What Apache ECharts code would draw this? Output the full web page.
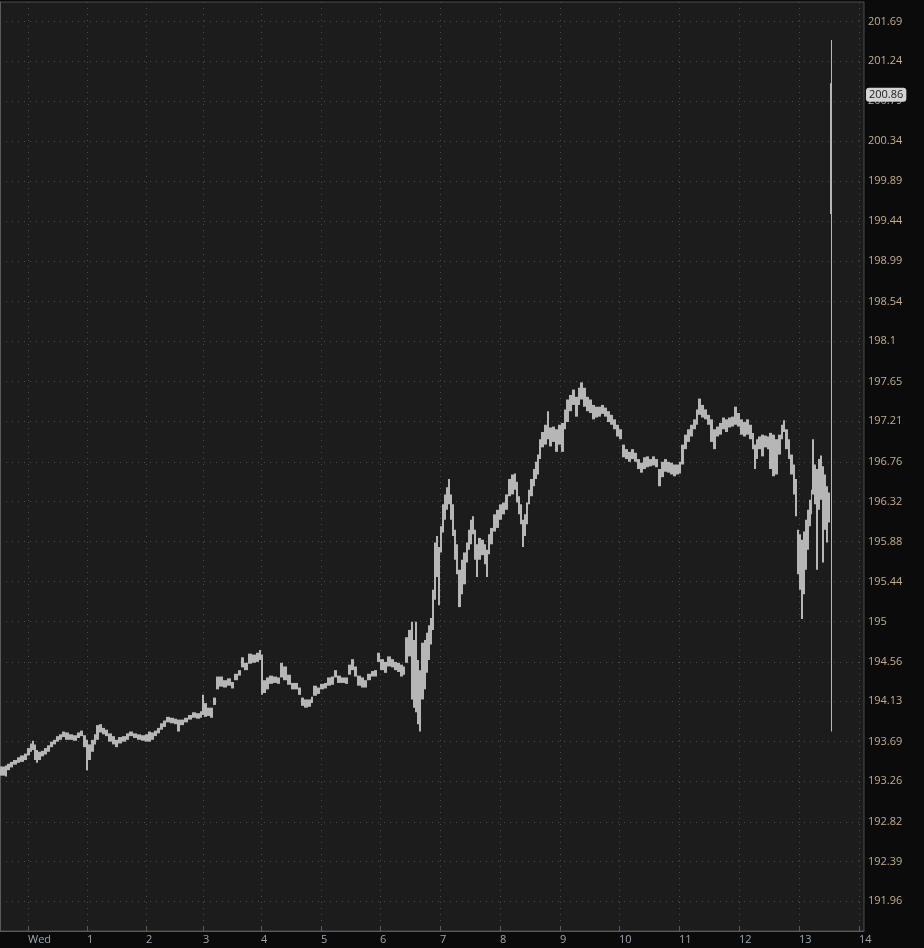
<!DOCTYPE html>
<html><head><meta charset="utf-8">
<script src="https://cdn.jsdelivr.net/npm/echarts@6/dist/echarts.min.js"></script>
<style>html,body{margin:0;padding:0;background:#0b0b0b}#c{width:924px;height:948px}</style>
</head><body><div id="c"></div>
<script>
// ---- data ----
const priceTicks = [201.69, 201.24, 200.79, 200.34, 199.89, 199.44, 198.99, 198.54, 198.1, 197.65, 197.21, 196.76, 196.32, 195.88, 195.44, 195, 194.56, 194.13, 193.69, 193.26, 192.82, 192.39, 191.96];
const hourLabels = ['Wed', '1', '2', '3', '4', '5', '6', '7', '8', '9', '10', '11', '12', '13', '14'];
const hourBars = [28, 87, 146, 203, 261, 321, 380, 440, 500, 560, 619, 679, 739, 799, 859];
const lastPrice = 200.86;
const axisMaxPrice = 201.91;
const axisMinPrice = 191.64;
const barCount = 864;

const barX = [0,5,7,10,13,17,20,24,27,30,32,34,36,38,41,44,47,50,53,56,59,62,65,69,73,77,80,83,86,88,91,94,96,99,102,105,108,112,115,118,122,126,129,133,137,141,145,148,151,154,157,160,163,166,170,174,177,180,184,188,192,196,200,202,204,207,210,213,216,219,223,227,231,234,238,241,244,248,252,256,259,261,263,266,269,273,277,280,283,287,291,295,298,301,304,308,311,313,317,320,324,327,331,334,337,341,345,348,351,354,357,361,364,367,371,374,377,380,384,387,391,394,397,400,403,405,408,411,413,415,417,419,421,424,426,428,430,432,434,436,438,440,442,444,446,448,450,452,454,456,458,461,463,466,468,470,472,474,476,478,481,484,486,488,490,493,496,499,502,505,508,511,514,516,518,520,522,524,526,528,530,533,535,537,539,541,544,547,549,552,555,558,561,564,566,569,572,575,578,580,583,586,589,592,595,598,601,604,607,610,613,616,619,622,625,628,631,634,637,640,643,646,649,652,655,658,661,664,667,670,673,676,679,681,684,687,690,693,696,698,701,704,707,710,713,716,719,722,725,728,731,734,737,740,743,746,749,752,754,756,758,761,764,767,769,772,775,778,781,783,785,788,790,793,795,797,799,801,803,805,807,809,811,812,814,816,818,820,822,824,826,828,830,831];

const barHigh = [193.42,193.43,193.45,193.47,193.49,193.52,193.54,193.56,193.62,193.67,
193.70,193.66,193.60,193.58,193.59,193.62,193.65,193.69,193.71,193.75,
193.77,193.80,193.79,193.77,193.76,193.79,193.81,193.76,193.71,193.66,
193.71,193.77,193.87,193.88,193.84,193.82,193.78,193.75,193.71,193.74,
193.75,193.78,193.80,193.78,193.77,193.76,193.77,193.80,193.79,193.81,
193.84,193.89,193.92,193.96,193.95,193.94,193.93,193.93,193.95,193.98,
194.01,194.00,194.02,194.20,194.11,194.06,194.06,194.17,194.40,194.40,
194.36,194.38,194.34,194.43,194.47,194.61,194.55,194.65,194.64,194.66,
194.69,194.64,194.36,194.39,194.41,194.40,194.39,194.55,194.51,194.42,
194.33,194.33,194.28,194.17,194.15,194.15,194.18,194.30,194.28,194.32,
194.33,194.39,194.40,194.47,194.41,194.39,194.39,194.53,194.59,194.51,
194.41,194.39,194.36,194.43,194.46,194.47,194.66,194.59,194.56,194.62,
194.59,194.56,194.55,194.53,194.51,194.83,194.91,195.00,194.80,195.00,
194.58,194.47,194.77,194.80,194.88,194.96,195.04,195.35,195.87,195.94,
195.82,196.05,196.29,196.40,196.48,196.57,196.40,196.29,196.01,195.85,
195.57,195.68,195.76,195.87,196.01,196.12,196.16,196.01,195.85,195.92,
195.90,195.85,195.79,195.96,196.03,196.18,196.23,196.29,196.31,196.40,
196.57,196.62,196.63,196.54,196.38,196.29,196.12,196.18,196.31,196.45,
196.57,196.68,196.76,196.84,197.01,197.09,197.17,197.32,197.14,197.15,
197.12,197.17,197.19,197.34,197.45,197.50,197.56,197.48,197.58,197.64,
197.58,197.48,197.45,197.39,197.37,197.37,197.39,197.36,197.32,197.28,
197.23,197.17,197.12,196.95,196.90,196.87,196.90,196.86,196.79,196.75,
196.81,196.82,196.79,196.82,196.79,196.68,196.76,196.79,196.76,196.75,
196.73,196.73,196.76,196.95,197.06,197.12,197.17,197.23,197.34,197.46,
197.39,197.34,197.28,197.23,197.12,197.15,197.19,197.25,197.23,197.25,
197.26,197.37,197.30,197.23,197.20,197.23,197.17,197.08,196.95,197.01,
197.04,197.06,197.05,197.04,197.08,197.06,197.01,197.06,197.17,197.22,
197.12,197.01,196.84,196.73,196.57,196.01,195.96,195.90,195.99,196.12,
196.23,196.34,196.45,197.01,196.73,196.68,196.79,196.83,196.71,196.62,
196.49,196.42,200.99,201.48];

const barLow = [193.32,193.31,193.38,193.41,193.44,193.46,193.47,193.49,193.54,193.58,
193.60,193.49,193.46,193.49,193.53,193.55,193.58,193.63,193.66,193.69,
193.71,193.74,193.71,193.71,193.70,193.73,193.75,193.63,193.38,193.49,
193.58,193.66,193.71,193.79,193.77,193.75,193.69,193.66,193.63,193.67,
193.69,193.71,193.75,193.73,193.71,193.70,193.69,193.69,193.71,193.75,
193.78,193.82,193.85,193.90,193.89,193.88,193.80,193.87,193.90,193.93,
193.95,193.94,193.95,193.98,193.96,193.97,193.95,194.09,194.26,194.29,
194.28,194.30,194.27,194.36,194.41,194.50,194.47,194.54,194.55,194.56,
194.58,194.20,194.22,194.26,194.32,194.33,194.32,194.39,194.36,194.31,
194.26,194.26,194.20,194.08,194.06,194.07,194.11,194.19,194.21,194.26,
194.27,194.30,194.31,194.39,194.33,194.33,194.32,194.42,194.47,194.40,
194.30,194.28,194.28,194.36,194.40,194.40,194.56,194.47,194.44,194.51,
194.50,194.47,194.45,194.40,194.42,194.55,194.62,194.15,194.06,194.01,
193.88,193.80,194.15,194.26,194.44,194.58,194.75,194.91,195.24,195.49,
195.18,195.76,195.98,196.12,196.23,196.29,196.12,195.94,195.68,195.52,
195.16,195.30,195.41,195.65,195.79,195.85,195.96,195.68,195.49,195.68,
195.73,195.63,195.49,195.74,195.85,195.99,196.03,196.12,196.18,196.23,
196.38,196.40,196.45,196.31,196.18,196.07,195.82,195.94,196.07,196.29,
196.38,196.49,196.57,196.62,196.79,196.92,196.95,197.01,196.93,196.98,
196.87,196.95,196.87,197.12,197.20,197.32,197.39,197.26,197.39,197.45,
197.37,197.32,197.30,197.23,197.25,197.26,197.29,197.26,197.20,197.17,
197.12,197.04,197.01,196.81,196.79,196.76,196.79,196.76,196.68,196.64,
196.68,196.70,196.71,196.72,196.70,196.49,196.59,196.65,196.64,196.62,
196.60,196.62,196.63,196.73,196.90,196.98,197.04,197.12,197.17,197.28,
197.25,197.23,197.17,196.98,196.90,197.04,197.06,197.12,197.09,197.14,
197.15,197.17,197.15,197.06,197.04,197.06,197.01,196.90,196.68,196.79,
196.90,196.82,196.92,196.90,196.68,196.60,196.62,196.84,197.01,197.09,
196.90,196.79,196.62,196.40,196.16,195.52,195.35,195.03,195.30,195.57,
195.79,196.05,196.18,196.40,196.29,195.57,196.23,196.34,195.65,196.01,
195.87,196.09,199.52,193.80];

// ---- build ----
const n = Math.min(barX.length, barHigh.length, barLow.length);
const bars = [];
for (let i = 0; i < n; i++) {
  const xEnd = (i + 1 < n) ? barX[i + 1] : barX[i] + 1;
  bars.push([barX[i], xEnd, Math.log(barHigh[i]), Math.log(barLow[i])]);
}
const logTicks = priceTicks.map(Math.log);
function tickLabel(v) {
  let best = 0, bd = Infinity;
  for (let i = 0; i < logTicks.length; i++) {
    const d = Math.abs(logTicks[i] - v);
    if (d < bd) { bd = d; best = i; }
  }
  return String(priceTicks[best]);
}
function hourLabel(v) {
  let best = 0, bd = Infinity;
  for (let i = 0; i < hourBars.length; i++) {
    const d = Math.abs(hourBars[i] - v);
    if (d < bd) { bd = d; best = i; }
  }
  return hourLabels[best];
}

const FONT = 'Open Sans';
const chart = echarts.init(document.getElementById('c'), null, {renderer: 'canvas'});
chart.setOption({
  backgroundColor: '#0b0b0b',
  animation: false,
  grid: {left: 0, right: 60, top: 2, bottom: 17, show: true, backgroundColor: '#1c1c1c', borderColor: '#4c4c4c', borderWidth: 1},
  xAxis: {
    type: 'value', min: 0, max: barCount,
    axisLine: {show: true, lineStyle: {color: '#5a5a5a'}},
    axisTick: {show: true, inside: true, length: 5, customValues: hourBars, lineStyle: {color: '#5a5a5a'}},
    axisLabel: {customValues: hourBars, formatter: hourLabel, align: 'left', margin: 3, color: '#9ea6b2', fontFamily: FONT, fontSize: 11},
    splitLine: {show: true, lineStyle: {color: '#4e4e4e', type: [1, 5], width: 1}}
  },
  yAxis: {
    type: 'value', position: 'right', scale: true,
    min: Math.log(axisMinPrice), max: Math.log(axisMaxPrice),
    axisLine: {show: true, lineStyle: {color: '#5a5a5a'}},
    axisTick: {show: true, inside: true, length: 4, customValues: logTicks, lineStyle: {color: '#5a5a5a'}},
    axisLabel: {customValues: logTicks, formatter: tickLabel, align: 'left', margin: 4, color: '#c4ae8e', fontFamily: FONT, fontSize: 11},
    splitLine: {show: true, lineStyle: {color: '#4e4e4e', type: [1, 5], width: 1}}
  },
  series: [
    {
      type: 'custom',
      data: bars,
      encode: {x: [0, 1], y: [2, 3]},
      renderItem: function (params, api) {
        const p1 = api.coord([api.value(0), api.value(2)]);
        const p2 = api.coord([api.value(1), api.value(3)]);
        return {
          type: 'rect',
          shape: {x: p1[0], y: p1[1], width: Math.max(1, p2[0] - p1[0]), height: Math.max(1, p2[1] - p1[1])},
          style: {fill: '#b6b6b6'}
        };
      }
    }
  ]
});

// last-price tag on the price axis, placed through the axis scale
const tagY = chart.convertToPixel({yAxisIndex: 0}, Math.log(lastPrice));
const axisX = chart.convertToPixel({xAxisIndex: 0}, barCount);
chart.setOption({
  graphic: [{
    type: 'text', z: 100,
    x: axisX + 2, y: tagY,
    style: {
      text: lastPrice.toFixed(2),
      fill: '#1a1a1a', font: '11px "Open Sans"',
      verticalAlign: 'middle', align: 'left',
      backgroundColor: '#d4d4d4', padding: [2, 3, 1, 3], borderRadius: 3
    }
  }]
});
</script>
</body></html>
